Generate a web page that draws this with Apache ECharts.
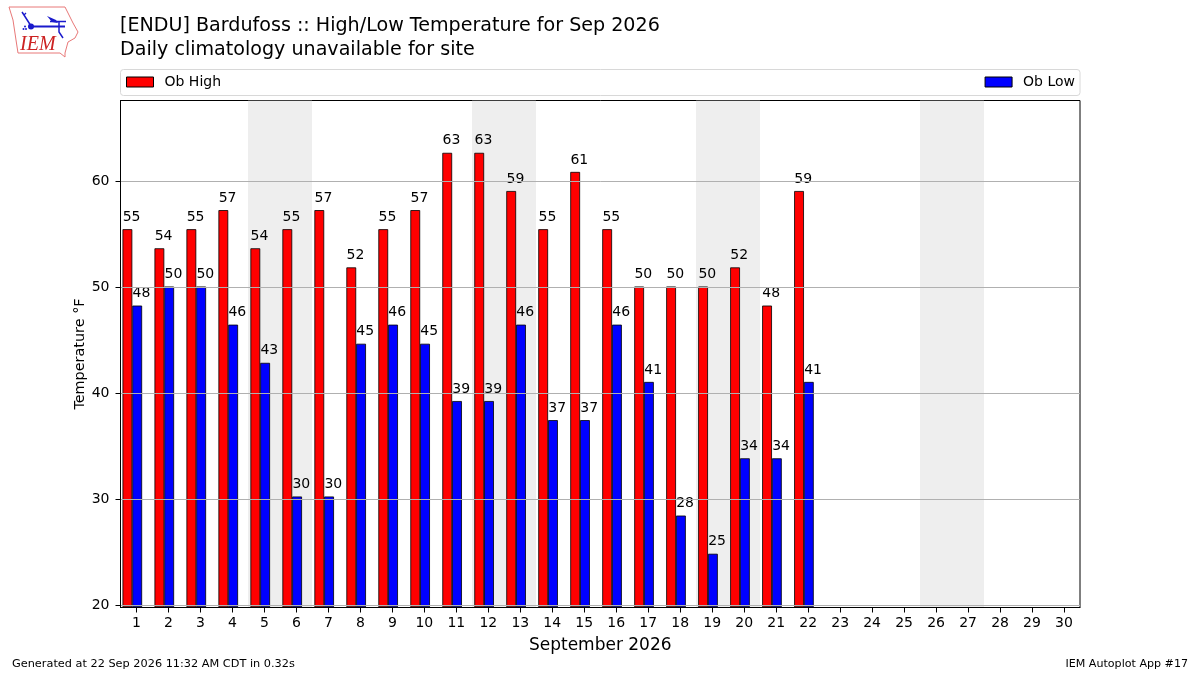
<!DOCTYPE html>
<html>
<head>
<meta charset="utf-8">
<style>html,body{margin:0;padding:0;background:#fff}#c{width:1200px;height:675px}</style>
<script src="https://cdn.jsdelivr.net/npm/echarts@6/dist/echarts.min.js"></script>
</head>
<body>
<div id="c"></div>
<script>
const days = ['1','2','3','4','5','6','7','8','9','10','11','12','13','14','15','16','17','18','19','20','21','22','23','24','25','26','27','28','29','30'];
const obHigh = [55.4,53.6,55.4,57.2,53.6,55.4,57.2,51.8,55.4,57.2,62.6,62.6,59,55.4,60.8,55.4,50,50,50,51.8,48.2,59];
const obLow = [48.2,50,50,46.4,42.8,30.2,30.2,44.6,46.4,44.6,39.2,39.2,46.4,37.4,37.4,46.4,41,28.4,24.8,33.8,33.8,41];
const weekendDays = ['5','6','12','13','19','20','26','27'];
const yTicks = [20,30,40,50,60];
const titleLines = ['[ENDU] Bardufoss :: High/Low Temperature for Sep 2026','Daily climatology unavailable for site'];
const xName = 'September 2026';
const yName = 'Temperature °F';
const footerLeft = 'Generated at 22 Sep 2026 11:32 AM CDT in 0.32s';
const footerRight = 'IEM Autoplot App #17';

const FONT = '"DejaVu Sans", sans-serif';
const plot = {left:120.5, top:100.5, width:959.5, height:507};
const yMin = 19.8, yMax = 67.6;
const barShift = -4.2, barLift = -0.7;

const barLabel = {
  show:true, position:'top', distance:1, offset:[4.2,-4],
  color:'#000', fontFamily:FONT, fontSize:14,
  formatter:p => Math.round(p.value)
};
const edge = {borderColor:'#000', borderWidth:0.8};

const chart = echarts.init(document.getElementById('c'), null, {renderer:'canvas'});
chart.setOption({
  animation:false,
  backgroundColor:'#fff',
  textStyle:{fontFamily:FONT},
  grid:[
    {left:plot.left, top:plot.top, width:plot.width, height:plot.height, show:true, borderColor:'#000', borderWidth:1, backgroundColor:'transparent'},
    {left:plot.left+barShift, top:plot.top+barLift, width:plot.width, height:plot.height, show:false}
  ],
  legend:[
    {left:126, top:73, data:['Ob High'], icon:'rect', itemWidth:27, itemHeight:10, itemGap:0, padding:[2,0],
     itemStyle:{borderColor:'#000', borderWidth:1},
     textStyle:{fontFamily:FONT, fontSize:14, color:'#000', padding:[0,0,0,6]}},
    {right:125, top:73, data:['Ob Low'], icon:'rect', itemWidth:27, itemHeight:10, itemGap:0, padding:[2,0],
     itemStyle:{borderColor:'#000', borderWidth:1},
     textStyle:{fontFamily:FONT, fontSize:14, color:'#000', padding:[0,0,0,6]}}
  ],
  xAxis:[
    {type:'category', gridIndex:0, data:days, position:'bottom', z:4,
     name:xName, nameLocation:'middle', nameGap:30,
     nameTextStyle:{fontFamily:FONT, fontSize:17, color:'#000'},
     axisLine:{show:true, lineStyle:{color:'#000', width:1}},
     axisTick:{show:true, alignWithLabel:true, length:5, lineStyle:{color:'#000', width:1}},
     axisLabel:{interval:0, margin:9, color:'#000', fontFamily:FONT, fontSize:14},
     splitLine:{show:false}},
    {type:'category', gridIndex:1, data:days, show:false}
  ],
  yAxis:[
    {type:'value', gridIndex:0, min:yMin, max:yMax, z:4,
     name:yName, nameLocation:'middle', nameGap:33, nameMoveOverlap:false,
     nameTextStyle:{fontFamily:FONT, fontSize:14.4, color:'#000'},
     axisLine:{show:true, lineStyle:{color:'#000', width:1}},
     axisTick:{show:true, length:5, customValues:yTicks, lineStyle:{color:'#000', width:1}},
     axisLabel:{margin:11, customValues:yTicks, color:'#000', fontFamily:FONT, fontSize:14, padding:[2,0,0,0], showMinLabel:true, showMaxLabel:true, verticalAlignMinLabel:'middle'},
     splitLine:{show:true, customValues:yTicks, lineStyle:{color:'#b0b0b0', width:1}}},
    {type:'value', gridIndex:1, min:yMin, max:yMax, show:false}
  ],
  series:[
    {type:'custom', name:'Weekend', xAxisIndex:0, yAxisIndex:0, z:0, silent:true, clip:true,
     data:weekendDays.map(d => [d]),
     encode:{x:0},
     renderItem:(params, api) => {
       const c = api.coord([api.value(0), yMin]);
       const w = api.size([1,0])[0];
       const x0 = Math.round(c[0]-w/2), x1 = Math.round(c[0]+w/2);
       return {type:'rect', shape:{x:x0, y:plot.top, width:x1-x0, height:plot.height}, style:{fill:'#eeeeee'}};
     }},
    {type:'bar', name:'Ob High', xAxisIndex:1, yAxisIndex:1, data:obHigh, barWidth:9.8, barGap:0, z:2,
     itemStyle:{color:'#ff0000', ...edge}, label:barLabel},
    {type:'bar', name:'Ob Low', xAxisIndex:1, yAxisIndex:1, data:obLow, barWidth:9.8, barGap:0, z:2,
     itemStyle:{color:'#0000ff', ...edge}, label:barLabel}
  ],
  graphic:[
    {type:'text', left:120, top:16.5, style:{text:titleLines[0], font:'19.1px '+FONT, fill:'#000'}},
    {type:'text', left:120, top:40.5, style:{text:titleLines[1], font:'19.1px '+FONT, fill:'#000'}},
    {type:'text', left:12, top:659, style:{text:footerLeft, font:'11.3px '+FONT, fill:'#000'}},
    {type:'text', right:12, top:659, style:{text:footerRight, font:'11.1px '+FONT, fill:'#000'}},
    {type:'rect', z:-1, shape:{x:120.5, y:69.5, width:959.5, height:26, r:3}, style:{fill:'#fff', stroke:'#d8d8d8', lineWidth:1}},
    {type:'group', silent:true, children:[
      {type:'polygon', shape:{points:[[9,7],[65,7],[68,13],[73,23],[78,32],[75,38],[68,42],[65,53],[65,57],[60,53],[18,53],[16,40],[13,20]]},
       style:{fill:'#fff', stroke:'#e87878', lineWidth:1}},
      {type:'polyline', shape:{points:[[31,26.5],[65,26.5]]}, style:{stroke:'#1a1acc', lineWidth:1.8, fill:null}},
      {type:'circle', shape:{cx:31, cy:26.5, r:3}, style:{fill:'#1a1acc'}},
      {type:'polyline', shape:{points:[[31,26],[24,15],[22,12]]}, style:{stroke:'#1a1acc', lineWidth:1.5, fill:null}},
      {type:'polyline', shape:{points:[[24,15],[26,13]]}, style:{stroke:'#1a1acc', lineWidth:1.2, fill:null}},
      {type:'polygon', shape:{points:[[47,16],[56,20],[58,23],[52,22]]}, style:{fill:'#1a1acc'}},
      {type:'polyline', shape:{points:[[50,21.5],[66,21.5]]}, style:{stroke:'#1a1acc', lineWidth:1.5, fill:null}},
      {type:'polyline', shape:{points:[[59,21.5],[59,32],[63,38]]}, style:{stroke:'#1a1acc', lineWidth:1.5, fill:null}},
      {type:'circle', shape:{cx:23.5, cy:29, r:1}, style:{fill:'#1a1acc'}},
      {type:'circle', shape:{cx:26, cy:29, r:1}, style:{fill:'#1a1acc'}},
      {type:'circle', shape:{cx:25, cy:26.5, r:1}, style:{fill:'#1a1acc'}},
      {type:'text', style:{x:20, y:35, text:'IEM', font:'italic 20px "Liberation Serif", serif', fill:'#cc2222'}}
    ]}
  ]
});
</script>
</body>
</html>
